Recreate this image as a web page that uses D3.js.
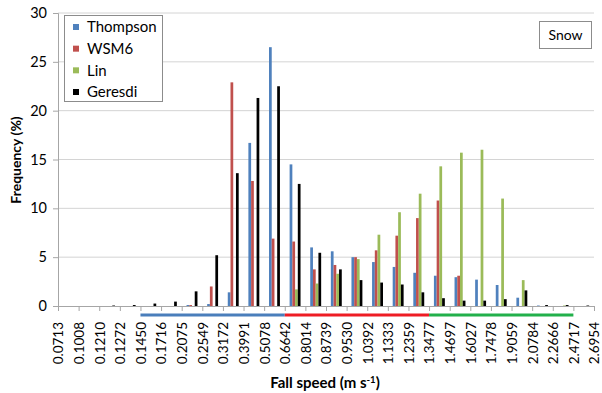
<!DOCTYPE html>
<html><head><meta charset="utf-8">
<script src="https://cdn.jsdelivr.net/npm/d3@7"></script>
<style>
html,body{margin:0;padding:0;background:#fff;}
text{font-family:Lato,"Open Sans",sans-serif;fill:#000;}
</style></head>
<body><svg id="c" width="602" height="393"></svg>
<script>
// Bin edges (fall speed, m s-1) – shown as tick labels
const edgeLabels = ["0.0713","0.1008","0.1210","0.1272","0.1450","0.1716","0.2075","0.2549","0.3172","0.3991","0.5078","0.6642","0.8014","0.8739","0.9530","1.0392","1.1333","1.2359","1.3477","1.4697","1.6027","1.7478","1.9059","2.0784","2.2666","2.4717","2.6954"];
// Bins: left edge of each bin
const bins = edgeLabels.slice(0, -1);
const seriesNames = ["Thompson","WSM6","Lin","Geresdi"];
const seriesColors = ["#4F81BD","#C0504D","#9BBB59","#000000"];
const thompson = [0,0,0,0,0,0,0.1,0.2,1.4,16.7,26.5,14.5,6.0,5.6,5.0,4.5,4.0,3.4,3.1,2.95,2.7,2.15,0.85,0.05,0,0];
const wsm6     = [0,0,0,0,0,0,0.1,2.0,22.9,12.8,6.9,6.6,3.75,4.2,5.0,5.7,7.2,9.0,10.8,3.1,0,0,0,0,0,0];
const lin      = [0,0,0,0,0,0,0,0,0,0,0,1.7,2.3,3.3,4.8,7.3,9.6,11.5,14.3,15.7,16.0,11.0,2.65,0,0.05,0];
const geresdi  = [0,0,0.05,0.1,0.25,0.45,1.5,5.2,13.6,21.3,22.5,12.5,5.45,3.75,2.65,2.4,2.2,1.4,0.8,0.55,0.55,0.7,1.6,0.1,0.1,0.05];
const seriesValues = [thompson, wsm6, lin, geresdi];
const yTicks = [0,5,10,15,20,25,30];
// Speed ranges marked under the axis
const ranges = [
  {from:"0.1450", to:"0.6642", color:"#4a7ebb"},
  {from:"0.6642", to:"1.3477", color:"#ee1c24"},
  {from:"1.3477", to:"2.4717", color:"#22b04b"}
];
const panelLabel = "Snow";

const svg = d3.select("#c");
const L = 58, R = 594, T = 13, B = 306;

const xEdge = d3.scalePoint().domain(edgeLabels).range([L, R]);
const xBin = d3.scaleBand().domain(bins).range([L, R]).paddingInner(0.47).paddingOuter(0.235);
const xSer = d3.scaleBand().domain(seriesNames).range([0, xBin.bandwidth()]);
const y = d3.scaleLinear().domain([0, 30]).range([B, T]);

// gridlines
svg.append("g").selectAll("line").data(yTicks.filter(d => d > 0)).join("line")
  .attr("x1", L).attr("x2", R).attr("y1", d => y(d)).attr("y2", d => y(d))
  .attr("stroke", "#d4d4d4").attr("stroke-width", 1);

// y axis
const yAxis = svg.append("g").attr("transform", `translate(${L},0)`)
  .call(d3.axisLeft(y).tickValues(yTicks).tickSize(5).tickPadding(6).tickFormat(d3.format("d")));
yAxis.select(".domain").attr("stroke", "#a6a6a6");
yAxis.selectAll(".tick line").attr("stroke", "#a6a6a6");
yAxis.selectAll("text").style("font-size", "14.5px").attr("fill", "#000");

// bars
seriesNames.forEach((s, si) => {
  svg.append("g").selectAll("rect").data(bins.map((b, i) => ({b, v: seriesValues[si][i]}))).join("rect")
    .attr("x", d => xBin(d.b) + xSer(s))
    .attr("width", xSer.bandwidth())
    .attr("y", d => y(d.v))
    .attr("height", d => B - y(d.v))
    .attr("fill", seriesColors[si]);
});

// x axis
const xAxis = svg.append("g").attr("transform", `translate(0,${B})`)
  .call(d3.axisBottom(xEdge).tickSize(5).tickSizeOuter(0));
xAxis.select(".domain").attr("stroke", "#a6a6a6");
xAxis.selectAll(".tick line").attr("stroke", "#a6a6a6");
xAxis.selectAll("text")
  .style("font-size", "13.5px").attr("fill", "#000")
  .attr("text-anchor", "end")
  .attr("transform", "rotate(-90)")
  .attr("x", -16).attr("y", 0).attr("dy", "0.36em");

// ranges under axis
svg.append("g").selectAll("line").data(ranges).join("line")
  .attr("x1", d => xEdge(d.from)).attr("x2", d => xEdge(d.to))
  .attr("y1", 315).attr("y2", 315)
  .attr("stroke", d => d.color).attr("stroke-width", 3);

// axis titles
svg.append("text").attr("transform", "translate(21,160) rotate(-90)")
  .attr("text-anchor", "middle").style("font-size", "14px").style("font-weight", "bold")
  .text("Frequency (%)");
const xt = svg.append("text").attr("x", 325).attr("y", 388)
  .attr("text-anchor", "middle").style("font-size", "15px").style("font-weight", "bold");
xt.append("tspan").text("Fall speed (m s");
xt.append("tspan").attr("dy", -5).style("font-size", "9.5px").text("-1");
xt.append("tspan").attr("dy", 5).text(")");

// legend
const lg = svg.append("g");
lg.append("rect").attr("x", 64.5).attr("y", 15.5).attr("width", 98).attr("height", 86)
  .attr("fill", "#fff").attr("stroke", "#8c8c8c");
const rowY = d3.scalePoint().domain(seriesNames).range([27, 92]);
seriesNames.forEach((s, i) => {
  lg.append("rect").attr("x", 73).attr("y", rowY(s) - 3).attr("width", 6).attr("height", 6).attr("fill", seriesColors[i]);
  lg.append("text").attr("x", 87).attr("y", rowY(s)).attr("dy", "0.35em")
    .style("font-size", "15px").text(s);
});

// panel label
svg.append("rect").attr("x", 539.5).attr("y", 21.5).attr("width", 52).attr("height", 27)
  .attr("fill", "#fff").attr("stroke", "#8c8c8c");
svg.append("text").attr("x", 565.5).attr("y", 35).attr("dy", "0.35em").attr("text-anchor", "middle")
  .style("font-size", "14px").text(panelLabel);
</script></body></html>
